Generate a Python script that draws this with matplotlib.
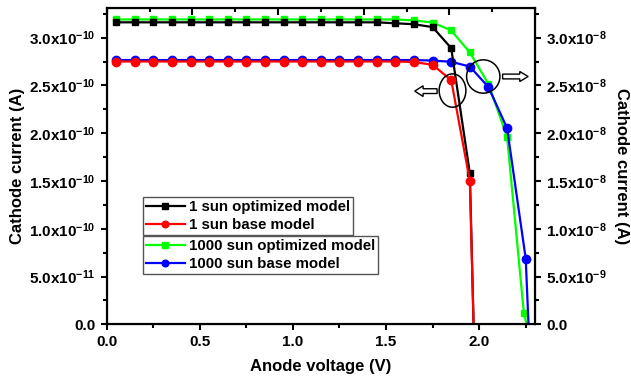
import matplotlib
matplotlib.use('Agg')
import matplotlib.pyplot as plt
import matplotlib.patches as mpatches
from matplotlib.ticker import MultipleLocator, FixedLocator, FuncFormatter, NullFormatter
import numpy as np

plt.rcParams['font.family'] = ['Liberation Sans', 'DejaVu Sans']
plt.rcParams['font.weight'] = 'bold'
plt.rcParams['mathtext.fontset'] = 'custom'
plt.rcParams['mathtext.rm'] = 'Liberation Sans:bold'
plt.rcParams['mathtext.bf'] = 'Liberation Sans:bold'

# 1 sun curves, current in units of 1e-10 A (left axis)
v_1sun = [0.05, 0.15, 0.25, 0.35, 0.45, 0.55, 0.65, 0.75, 0.85, 0.95, 1.05,
          1.15, 1.25, 1.35, 1.45, 1.55, 1.65, 1.75, 1.85, 1.95, 1.97]
i_1sun_opt = [3.16, 3.16, 3.16, 3.16, 3.16, 3.16, 3.16, 3.16, 3.16, 3.16, 3.16,
              3.16, 3.16, 3.16, 3.16, 3.15, 3.14, 3.11, 2.89, 1.58, 0.0]
i_1sun_base = [2.75, 2.75, 2.75, 2.75, 2.75, 2.75, 2.75, 2.75, 2.75, 2.75, 2.75,
               2.75, 2.75, 2.75, 2.75, 2.75, 2.745, 2.715, 2.555, 1.50, 0.0]

# 1000 sun curves, current in units of 1e-8 A (right axis)
v_1000_opt = [0.05, 0.15, 0.25, 0.35, 0.45, 0.55, 0.65, 0.75, 0.85, 0.95, 1.05, 1.15,
              1.25, 1.35, 1.45, 1.55, 1.65, 1.75, 1.85, 1.95, 2.05, 2.15, 2.24, 2.255]
i_1000_opt = [3.19, 3.19, 3.19, 3.19, 3.19, 3.19, 3.19, 3.19, 3.19, 3.19, 3.19, 3.19,
              3.19, 3.19, 3.19, 3.19, 3.18, 3.158, 3.075, 2.845, 2.515, 1.96, 0.12, 0.0]
v_1000_base = [0.05, 0.15, 0.25, 0.35, 0.45, 0.55, 0.65, 0.75, 0.85, 0.95, 1.05, 1.15,
               1.25, 1.35, 1.45, 1.55, 1.65, 1.75, 1.85, 1.95, 2.05, 2.15, 2.25, 2.265]
i_1000_base = [2.765, 2.765, 2.765, 2.765, 2.765, 2.765, 2.765, 2.765, 2.765, 2.765, 2.765, 2.765,
               2.765, 2.765, 2.765, 2.765, 2.765, 2.76, 2.747, 2.697, 2.482, 2.052, 0.687, 0.0]

labels_1sun = ['1 sun optimized model', '1 sun base model']
labels_1000 = ['1000 sun optimized model', '1000 sun base model']

# tick values inside the plotted range
xticks = [0.0, 0.5, 1.0, 1.5, 2.0]
yticks_left = [0.0, 0.5e-10, 1.0e-10, 1.5e-10, 2.0e-10, 2.5e-10, 3.0e-10]
yticks_right = [0.0, 0.5e-8, 1.0e-8, 1.5e-8, 2.0e-8, 2.5e-8, 3.0e-8]


def sci_fmt(v, pos):
    if abs(v) < 1e-20:
        return '0.0'
    e = int(np.floor(np.log10(abs(v)) + 1e-9))
    m = v / 10**e
    return r'$\mathbf{%.1fx10^{%d}}$' % (m, e)


fig = plt.figure(figsize=(6.31, 3.77), dpi=100)
ax = fig.add_axes([0.1691, 0.1398, 0.6788, 0.839])
ax2 = ax.twinx()
ax.set_zorder(ax2.get_zorder() + 1)
ax.patch.set_visible(False)

lw = 1.6
h1, = ax.plot(v_1sun, np.array(i_1sun_opt) * 1e-10, '-s', color='black', lw=lw, ms=5,
              markevery=list(range(len(v_1sun) - 1)), label=labels_1sun[0])
h2, = ax.plot(v_1sun, np.array(i_1sun_base) * 1e-10, '-o', color='#ff0000', lw=lw, ms=6,
              markevery=list(range(len(v_1sun) - 1)), label=labels_1sun[1])
h3, = ax2.plot(v_1000_opt, np.array(i_1000_opt) * 1e-8, '-s', color='#00ff00', lw=lw, ms=5,
               markevery=list(range(len(v_1000_opt) - 1)), label=labels_1000[0])
h4, = ax2.plot(v_1000_base, np.array(i_1000_base) * 1e-8, '-o', color='#0000ff', lw=lw, ms=6,
               markevery=list(range(len(v_1000_base) - 1)), label=labels_1000[1])

ax.set_xlim(0, 2.3)
ax.set_ylim(0, 3.31e-10)
ax2.set_ylim(0, 3.31e-8)

ax.xaxis.set_major_locator(FixedLocator(xticks))
ax.xaxis.set_minor_locator(MultipleLocator(0.25))
ax.yaxis.set_major_locator(FixedLocator(yticks_left))
ax.yaxis.set_minor_locator(MultipleLocator(0.25e-10))
ax2.yaxis.set_major_locator(FixedLocator(yticks_right))
ax2.yaxis.set_minor_locator(MultipleLocator(0.25e-8))
ax.xaxis.set_major_formatter(FuncFormatter(lambda v, p: '%.1f' % v))
ax.yaxis.set_major_formatter(FuncFormatter(sci_fmt))
ax2.yaxis.set_major_formatter(FuncFormatter(sci_fmt))

for a in (ax, ax2):
    for s in a.spines.values():
        s.set_linewidth(1.5)
ax.tick_params(axis='both', which='major', direction='out', length=4.5, width=1.5,
               labelsize=11, top=False, right=False)
ax.tick_params(axis='both', which='minor', direction='out', length=2.8, width=1.5,
               top=False, right=False)
ax2.tick_params(axis='y', which='major', direction='out', length=4.5, width=1.5, labelsize=11)
ax2.tick_params(axis='y', which='minor', direction='out', length=2.8, width=1.5)
for t in ax.get_xticklabels() + ax.get_yticklabels() + ax2.get_yticklabels():
    t.set_fontweight('bold')

# top axis ticks, pointing inward
top = ax.twiny()
top.set_xlim(0, 1)
top.xaxis.set_major_locator(MultipleLocator(0.2))
top.xaxis.set_minor_locator(MultipleLocator(0.1))
top.xaxis.set_major_formatter(NullFormatter())
top.tick_params(axis='x', which='major', direction='in', length=5, width=1.5)
top.tick_params(axis='x', which='minor', direction='in', length=3.2, width=1.5)

ax.set_xlabel('Anode voltage (V)', fontsize=12, fontweight='bold', labelpad=7)
ax.set_ylabel('Cathode current (A)', fontsize=12, fontweight='bold', labelpad=3)
ax2.set_ylabel('Cathode current (A)', fontsize=12, fontweight='bold', rotation=270, labelpad=16)

# circles marking which curves belong to which axis
ax.add_patch(mpatches.Ellipse((1.857, 2.446e-10), 0.1435, 0.349e-10, fill=False,
                              edgecolor='black', lw=1.1, zorder=5))
ax.add_patch(mpatches.Ellipse((2.022, 2.593e-10), 0.179, 0.349e-10, fill=False,
                              edgecolor='black', lw=1.1, zorder=5))
ax.add_patch(mpatches.FancyArrow(1.774, 2.44e-10, -0.12, 0, width=0.05e-10,
                                 head_width=0.112e-10, head_length=0.045,
                                 length_includes_head=True, facecolor='white',
                                 edgecolor='black', lw=1.0, zorder=5))
ax.add_patch(mpatches.FancyArrow(2.126, 2.593e-10, 0.137, 0, width=0.05e-10,
                                 head_width=0.105e-10, head_length=0.045,
                                 length_includes_head=True, facecolor='white',
                                 edgecolor='black', lw=1.0, zorder=5, clip_on=False))

leg_kw = dict(loc='upper left', frameon=True, fancybox=False,
              borderpad=0.2, labelspacing=0.25, handlelength=2.6, handletextpad=0.3,
              borderaxespad=0, markerscale=0.8, framealpha=1, edgecolor='#555555',
              prop={'weight': 'bold', 'size': 10.8})
leg1 = fig.legend([h1, h2], labels_1sun, bbox_to_anchor=(0.2261, 0.4767), **leg_kw)
leg2 = fig.legend([h3, h4], labels_1000, bbox_to_anchor=(0.2261, 0.374), **leg_kw)
for lg in (leg1, leg2):
    lg.get_frame().set_linewidth(1.0)

fig.savefig('out.png', dpi=100)
